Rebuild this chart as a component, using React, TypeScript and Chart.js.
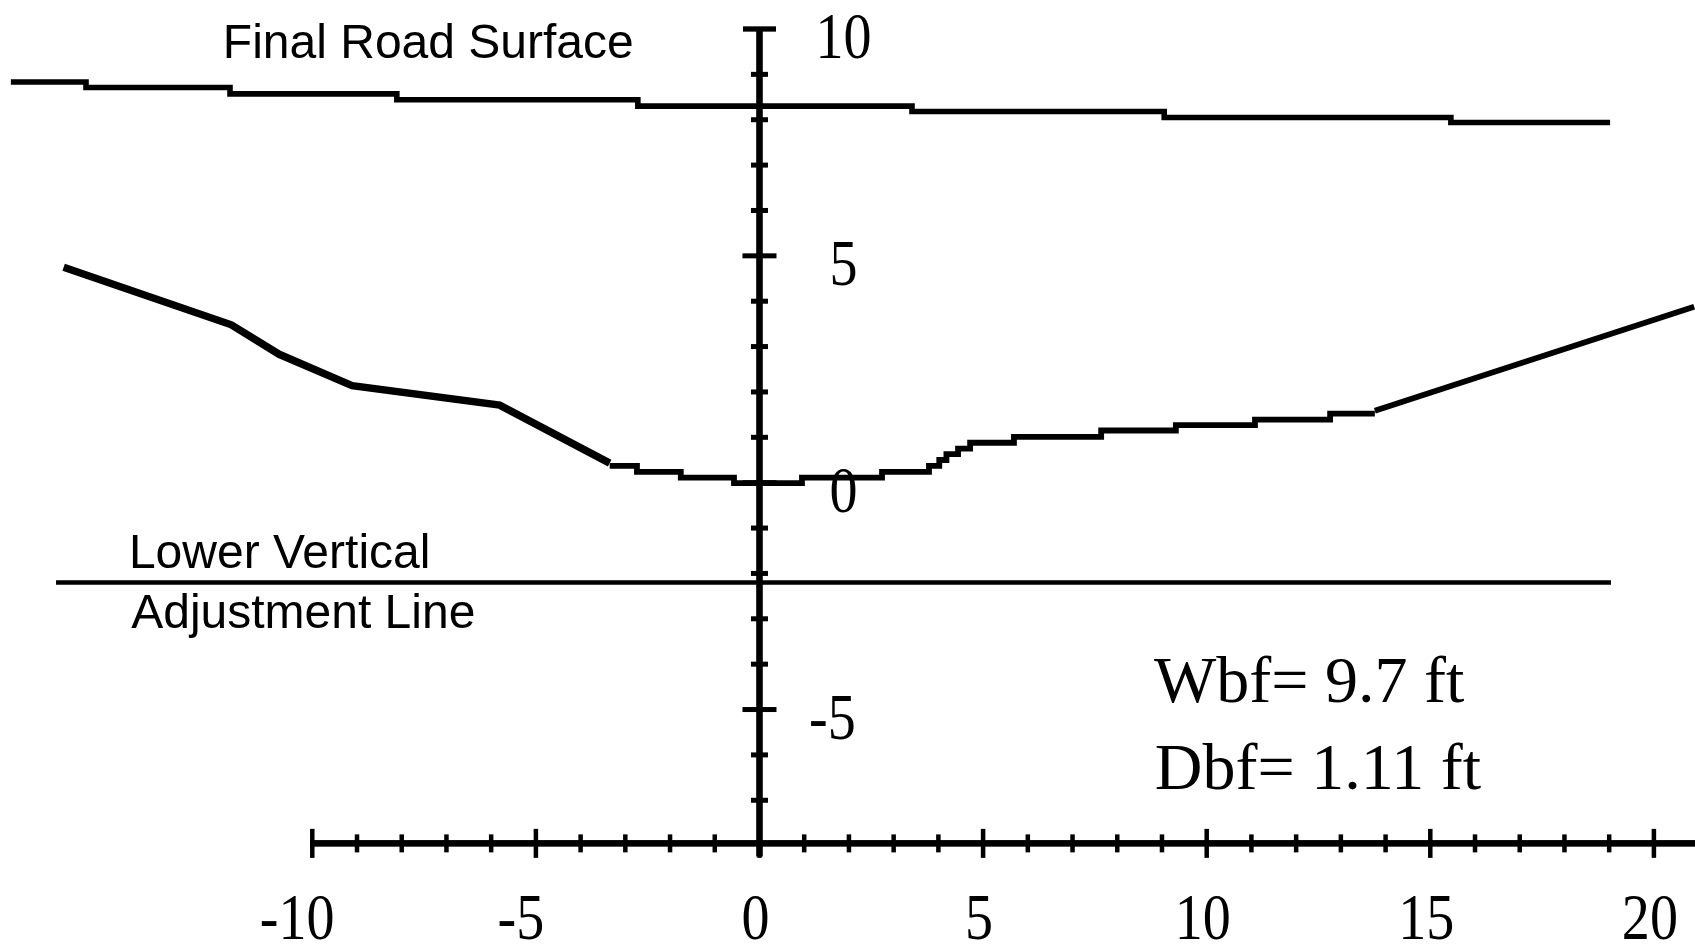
import React, { useEffect, useRef } from "react";
import { Chart, registerables } from "chart.js";

Chart.register(...registerables);

// ---- Data ----
// Final road surface (stepped profile)
const roadX = [-16.74, -15.06, -11.84, -8.11, -2.72, 3.41, 9.05, 15.46, 19.02];
const roadY = [8.83, 8.71, 8.57, 8.44, 8.3, 8.18, 8.05, 7.94, 7.94];

// Left bank of the channel (heavy line)
const bankX = [-15.56, -11.81, -10.74, -9.11, -5.81, -3.35];
const bankY = [4.75, 3.48, 2.83, 2.14, 1.71, 0.43];

// Channel bed (stepped, thin)
const channelX = [-3.35, -2.74, -1.76, -0.57, 0.95, 2.74, 3.79, 4.02, 4.18, 4.44, 4.71, 5.69, 7.64, 9.31, 11.08, 12.76, 13.76];
const channelY = [0.37, 0.24, 0.11, -0.01, 0.11, 0.24, 0.37, 0.5, 0.63, 0.75, 0.88, 1.01, 1.15, 1.27, 1.39, 1.52, 1.52];

// Right bank rising slope
const slopeX = [13.76, 20.9];
const slopeY = [1.585, 3.88];

// Lower vertical adjustment line
const lowerX = [-15.73, 19.04];
const lowerY = [-2.2, -2.2];

// Axes / ticks
const xTickLabels = [-10, -5, 0, 5, 10, 15, 20];
const yTickLabels = [10, 5, 0, -5];
const xTickStart = -10;
const xTickEnd = 21;
const yTickMin = -7;
const yTickMax = 9;
const xAxisAtY = -7.95;
const yAxisTop = 10;
const yAxisBottom = -8.24;

// View window
const X_MIN = -16.983;
const X_MAX = 20.919;
const Y_MIN = -10.212;
const Y_MAX = 10.639;

const pts = (xs: number[], ys: number[]) => xs.map((x, i) => ({ x, y: ys[i] }));

const crossAxesPlugin = {
  id: "crossAxes",
  afterDatasetsDraw(chart: any) {
    const { ctx } = chart;
    const xs = chart.scales.x;
    const ys = chart.scales.y;
    const px = (v: number) => xs.getPixelForValue(v);
    const py = (v: number) => ys.getPixelForValue(v);
    ctx.save();
    ctx.fillStyle = "#000";

    // X axis line
    const axY = py(xAxisAtY);
    const xLeft = px(xTickStart) - 2.25;
    ctx.fillRect(xLeft, axY - 3.3, chart.width - xLeft + 10, 6.6);
    for (let v = xTickStart; v <= xTickEnd; v++) {
      const x0 = px(v);
      const half = v % 5 === 0 ? 14.5 : 9;
      ctx.fillRect(x0 - 2.25, axY - half, 4.5, half * 2);
    }

    // Y axis line
    const axX = px(0);
    const top = py(yAxisTop);
    ctx.fillRect(axX - 3.3, top, 6.6, py(yAxisBottom) - top);
    ctx.fillRect(axX - 16.5, top - 2.65, 33, 5.3);
    for (let v = yTickMin; v <= yTickMax; v++) {
      const y0 = py(v);
      const half = v % 5 === 0 ? 17 : 8.5;
      ctx.fillRect(axX - half, y0 - 2.5, half * 2, 5);
    }

    // Tick labels
    ctx.font = "66px 'Liberation Serif', 'DejaVu Serif', serif";
    ctx.textAlign = "center";
    ctx.textBaseline = "alphabetic";
    const drawLabel = (s: string, cx: number, base: number) => {
      ctx.save();
      ctx.translate(cx, base);
      ctx.scale(0.85, 1);
      const mw = s.startsWith("-") ? ctx.measureText("-").width + 4 : 0;
      ctx.fillText(s, -mw / 2, 0);
      ctx.restore();
    };
    xTickLabels.forEach((v) => drawLabel(String(v), px(v) - 4, axY + 96));
    yTickLabels.forEach((v) => drawLabel(String(v), axX + 84, py(v) + 29));
    ctx.restore();
  },
};

const textPlugin = {
  id: "annotations",
  afterDraw(chart: any) {
    const { ctx } = chart;
    const xs = chart.scales.x;
    const ys = chart.scales.y;
    const px = (v: number) => xs.getPixelForValue(v);
    const py = (v: number) => ys.getPixelForValue(v);
    ctx.save();
    ctx.fillStyle = "#000";
    ctx.textAlign = "left";
    ctx.textBaseline = "alphabetic";
    ctx.font = "48px 'Liberation Sans', Arial, sans-serif";
    ctx.fillText("Final Road Surface", px(-12.0), py(9.36));
    ctx.fillText("Lower Vertical", px(-14.1), py(-1.88));
    ctx.fillText("Adjustment Line", px(-14.05), py(-3.2));
    ctx.font = "66px 'Liberation Serif', 'DejaVu Serif', serif";
    ctx.fillText("Wbf= 9.7 ft", px(8.82), py(-4.83));
    ctx.fillText("Dbf= 1.11 ft", px(8.84), py(-6.75));
    ctx.restore();
  },
};

export default function App() {
  const ref = useRef<HTMLCanvasElement | null>(null);
  useEffect(() => {
    document.body.style.margin = "0";
    const canvas = ref.current;
    if (!canvas) return;
    const line = (data: any[], width: number, stepped: boolean) => ({
      data,
      borderColor: "#000",
      backgroundColor: "#000",
      borderWidth: width,
      pointRadius: 0,
      fill: false,
      tension: 0,
      stepped,
      borderCapStyle: "butt",
      borderJoinStyle: "miter",
    });
    const chart = new Chart(canvas, {
      type: "line",
      data: {
        datasets: [
          line(pts(roadX, roadY), 5.6, true),
          line(pts(bankX, bankY), 7.5, false),
          line(pts(channelX, channelY), 5.8, true),
          line(pts(slopeX, slopeY), 5.8, false),
          line(pts(lowerX, lowerY), 4.6, false),
        ] as any,
      },
      options: {
        animation: false,
        responsive: true,
        maintainAspectRatio: false,
        layout: { padding: 0 },
        events: [],
        plugins: { legend: { display: false }, tooltip: { enabled: false }, title: { display: false } },
        scales: {
          x: { type: "linear", min: X_MIN, max: X_MAX, display: false },
          y: { type: "linear", min: Y_MIN, max: Y_MAX, display: false },
        },
      },
      plugins: [crossAxesPlugin, textPlugin],
    });
    return () => chart.destroy();
  }, []);
  return (
    <div style={{ position: "absolute", left: 0, top: 0, width: 1695, height: 946, background: "#fff" }}>
      <canvas ref={ref} />
    </div>
  );
}
